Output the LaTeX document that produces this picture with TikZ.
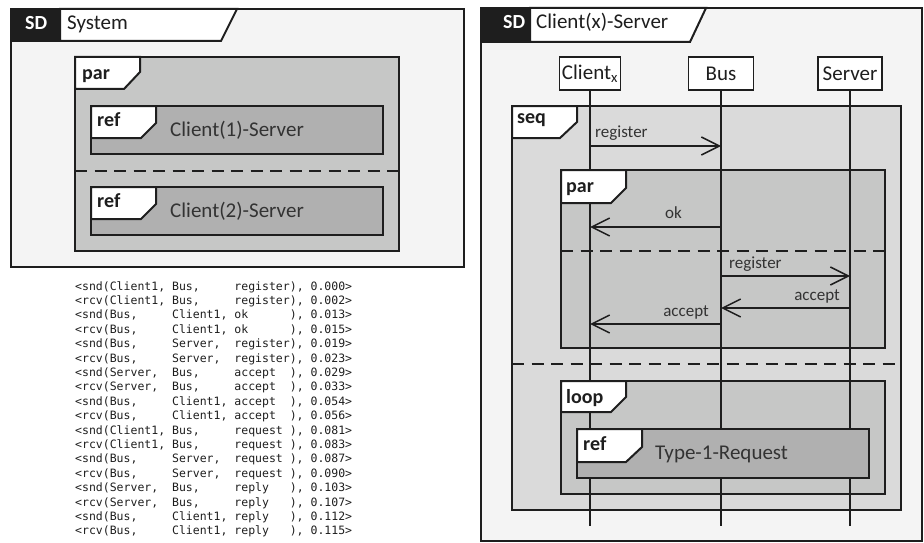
\documentclass[tikz,border=0pt]{standalone}
\usepackage{fontspec}
\setmainfont{Carlito}
\newfontfamily\lstfont{DejaVu Sans Mono}
\usetikzlibrary{arrows.meta}
\definecolor{bgc}{HTML}{F4F4F4}
\definecolor{parc}{HTML}{C6C7C6}
\definecolor{seqc}{HTML}{DADADA}
\definecolor{refc}{HTML}{B0B0B0}
\definecolor{ink}{HTML}{1E1E1E}
\definecolor{txt}{HTML}{333333}
\tikzset{
 frm/.style={draw=ink, line width=2pt},
 tabshape/.style={draw=ink, line width=2pt, fill=white},
 kw/.style={font=\fontsize{20}{22}\selectfont\bfseries, text=ink, inner sep=0pt, anchor=base west},
 sdkw/.style={font=\fontsize{20}{22}\selectfont\bfseries, text=white, inner sep=0pt, anchor=base west},
 ttl/.style={font=\fontsize{21}{24}\selectfont, text=txt, inner sep=0pt, anchor=base west},
 head/.style={draw=ink, line width=1.5pt, fill=white, minimum height=33pt, inner sep=0pt, font=\fontsize{21}{24}\selectfont, text=ink},
 life/.style={draw=ink, line width=1.6pt},
 msg/.style={draw=ink, line width=1.5pt, -{Straight Barb[length=18pt,width=18pt,line width=1.5pt]}},
 mlab/.style={font=\fontsize{17}{20}\selectfont, text=txt, inner sep=0pt},
 sepline/.style={draw=ink, line width=1.5pt, dash pattern=on 12pt off 7.5pt},
 lst/.style={font=\lstfont\fontsize{11.5}{14}\selectfont, text=ink, inner sep=0pt, anchor=base west},
}
\newcommand\tabat[6]{\filldraw[tabshape] (#1,#2) -- (#3,#2) -- (#3,#4) -- (#5,#6) -- (#1,#6) -- cycle;}
\begin{document}
\begin{tikzpicture}[x=1pt,y=-1pt]
\useasboundingbox (0,0) rectangle (924,543);
\fill[white] (0,0) rectangle (924,543);
% ---------------- left: SD System
\filldraw[frm, fill=bgc] (11,9) rectangle (464,267);
\filldraw[frm, fill=ink] (11,9) rectangle (60,41);
\filldraw[tabshape] (60,9) -- (237,9) -- (221,41) -- (60,41) -- cycle;
\node[sdkw] (sdL) at (25,30) {SD};
\node[ttl, text=ink] (sysT) at (67,30) {System};
\filldraw[frm, fill=parc] (75,57) rectangle (399,251);
\tabat{75}{57}{140}{72}{124}{89}
\node[kw] (parL) at (82,80) {par};
\filldraw[frm, fill=refc] (91,106) rectangle (383,154);
\tabat{91}{106}{156}{123}{141}{138}
\node[kw] (ref1) at (97,126) {ref};
\node[ttl] (c1s) at (170,136) {Client(1)-Server};
\draw[sepline] (75,171) -- (399,171);
\filldraw[frm, fill=refc] (91,187) rectangle (383,235);
\tabat{91}{187}{156}{204}{141}{219}
\node[kw] (ref2) at (97,207) {ref};
\node[ttl] (c2s) at (170,217) {Client(2)-Server};
% ---------------- listing
\foreach \t [count=\i] in {
 {<snd(Client1,~Bus,~~~~~register),~0.000>},
 {<rcv(Client1,~Bus,~~~~~register),~0.002>},
 {<snd(Bus,~~~~~Client1,~ok~~~~~~),~0.013>},
 {<rcv(Bus,~~~~~Client1,~ok~~~~~~),~0.015>},
 {<snd(Bus,~~~~~Server,~~register),~0.019>},
 {<rcv(Bus,~~~~~Server,~~register),~0.023>},
 {<snd(Server,~~Bus,~~~~~accept~~),~0.029>},
 {<rcv(Server,~~Bus,~~~~~accept~~),~0.033>},
 {<snd(Bus,~~~~~Client1,~accept~~),~0.054>},
 {<rcv(Bus,~~~~~Client1,~accept~~),~0.056>},
 {<snd(Client1,~Bus,~~~~~request~),~0.081>},
 {<rcv(Client1,~Bus,~~~~~request~),~0.083>},
 {<snd(Bus,~~~~~Server,~~request~),~0.087>},
 {<rcv(Bus,~~~~~Server,~~request~),~0.090>},
 {<snd(Server,~~Bus,~~~~~reply~~~),~0.103>},
 {<rcv(Server,~~Bus,~~~~~reply~~~),~0.107>},
 {<snd(Bus,~~~~~Client1,~reply~~~),~0.112>},
 {<rcv(Bus,~~~~~Client1,~reply~~~),~0.115>}}
 \node[lst] (l\i) at (75,{290+14.4*(\i-1)}) {\t};
% ---------------- right: SD Client(x)-Server
\filldraw[frm, fill=bgc] (481,8) rectangle (922,541);
\filldraw[frm, fill=ink] (481,8) rectangle (530,42);
\filldraw[tabshape] (530,8) -- (706,8) -- (690,42) -- (530,42) -- cycle;
\node[sdkw] (sdR) at (503,29) {SD};
\node[ttl, text=ink] (cxsT) at (536,29) {Client(x)-Server};
\node[head, minimum width=61pt] (cx) at (590,73.5) {Client\textsubscript{x}};
\node[head, minimum width=65pt] (bus) at (721,73.5) {Bus};
\node[head, minimum width=64pt] (srv) at (850,73.5) {Server};
% fragments
\filldraw[frm, fill=seqc] (512,106) rectangle (901,510);
\filldraw[frm, fill=parc] (561,170) rectangle (885,348);
\draw[sepline] (561,251) -- (885,251);
\draw[sepline] (512,364) -- (901,364);
\filldraw[frm, fill=parc] (561,381) rectangle (885,494);
% lifelines
\coordinate (cxE) at (cx |- 0,526);
\coordinate (busE) at (bus |- 0,526);
\coordinate (srvE) at (srv |- 0,526);
\draw[life] (cx.south) -- (cxE);
\draw[life] (bus.south) -- (busE);
\draw[life] (srv.south) -- (srvE);
% messages
\draw[msg] (cx |- 0,146) -- (bus |- 0,146);
\node[mlab, anchor=base west] (m1) at (595,137) {register};
\draw[msg] (bus |- 0,227) -- (cx |- 0,227);
\node[mlab, anchor=base] (m2) at (673.5,218) {ok};
\draw[msg] (bus |- 0,276) -- (srv |- 0,276);
\node[mlab, anchor=base west] (m3) at (729,268) {register};
\draw[msg] (srv |- 0,308) -- (bus |- 0,308);
\node[mlab, anchor=base east] (m4) at (840,300) {accept};
\draw[msg] (bus |- 0,324) -- (cx |- 0,324);
\node[mlab, anchor=base east] (m5) at (709,316) {accept};
% tabs
\tabat{512}{106}{577}{122}{560}{138}
\node[kw] (seqK) at (517,124) {seq};
\tabat{561}{170}{626}{188}{611}{203}
\node[kw] (parK) at (566,192) {par};
\tabat{561}{381}{626}{397}{611}{412}
\node[kw] (loopK) at (566,403) {loop};
% ref box
\filldraw[frm, fill=refc] (577,429) rectangle (869,478);
\tabat{577}{429}{642}{447}{626}{462}
\node[kw] (refK) at (583,450) {ref};
\node[ttl] (t1r) at (655,459) {Type-1-Request};
\end{tikzpicture}
\end{document}
